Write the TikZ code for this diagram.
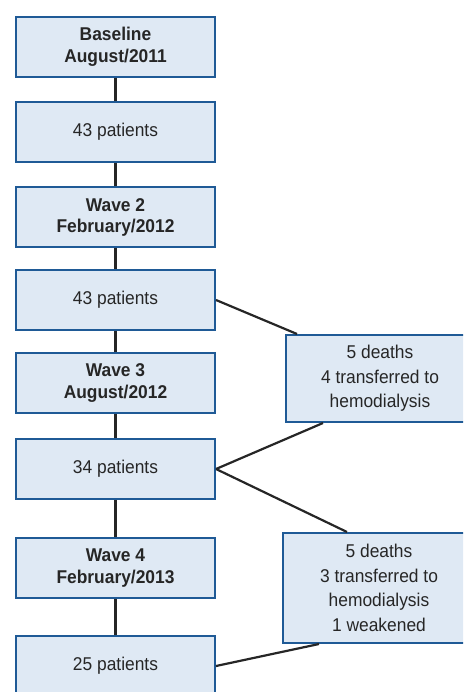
\documentclass[tikz,border=0pt]{standalone}
\usepackage{fontspec}
\setmainfont{Liberation Sans}[FakeStretch=0.94]
\usetikzlibrary{calc}
\definecolor{boxfill}{HTML}{DFE9F4}
\definecolor{boxline}{HTML}{1F5A96}
\definecolor{txt}{HTML}{262626}
\begin{document}
\begin{tikzpicture}[x=1pt,y=-1pt,
  box/.style={draw=boxline,fill=boxfill,line width=2pt,rectangle,align=center,
    text=txt,font=\fontsize{18.5}{21.5}\selectfont,inner sep=0pt},
  lbox/.style={box,minimum width=199pt,minimum height=60pt},
  rbox/.style={box,font=\fontsize{18.5}{24.5}\selectfont},
  conn/.style={draw=black!85,line width=2.2pt}]
\useasboundingbox (0,0) rectangle (463,692);
\clip (0,0) rectangle (463,692);
\node[lbox] (b1) at (115.5,47) {\textbf{Baseline}\\\textbf{August/2011}};
\node[lbox] (p1) at (115.5,132) {43 patients};
\node[lbox] (b2) at (115.5,217.5) {\textbf{Wave 2}\\\textbf{February/2012}};
\node[lbox] (p2) at (115.5,300) {43 patients};
\node[lbox] (b3) at (115.5,383) {\textbf{Wave 3}\\\textbf{August/2012}};
\node[lbox] (p3) at (115.5,469) {34 patients};
\node[lbox] (b4) at (115.5,568) {\textbf{Wave 4}\\\textbf{February/2013}};
\node[lbox] (p4) at (115.5,666) {25 patients};
\node[rbox,minimum width=188pt,minimum height=87pt] (d1) at (380,378.5)
  {5 deaths\\4 transferred to\\hemodialysis};
\node[rbox,minimum width=192pt,minimum height=110pt] (d2) at (379,588)
  {5 deaths\\3 transferred to\\hemodialysis\\1 weakened};
\draw[conn] (b1.south) -- (p1.north);
\draw[conn] (p1.south) -- (b2.north);
\draw[conn] (b2.south) -- (p2.north);
\draw[conn] (p2.south) -- (b3.north);
\draw[conn] (b3.south) -- (p3.north);
\draw[conn] (p3.south) -- (b4.north);
\draw[conn] (b4.south) -- (p4.north);
\draw[conn] (p2.east) -- ($(d1.north west)+(12,0)$);
\draw[conn] (p3.east) -- ($(d1.south west)+(38,0)$);
\draw[conn] (p3.east) -- ($(d2.north west)+(65,0)$);
\draw[conn] (p4.east) -- ($(d2.south west)+(37,0)$);
\end{tikzpicture}
\end{document}
